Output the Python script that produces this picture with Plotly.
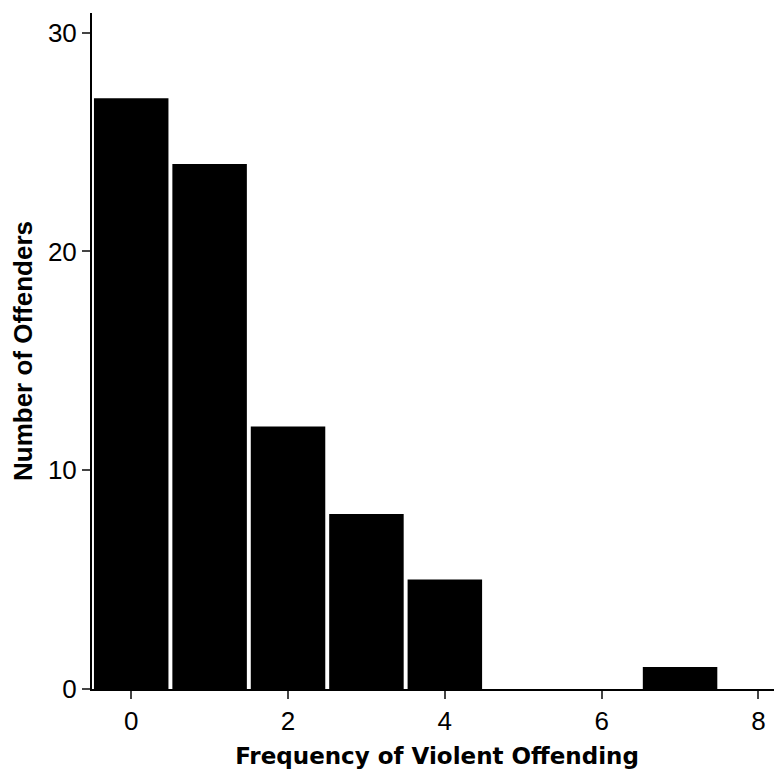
import plotly.graph_objects as go

frequency = [0, 1, 2, 3, 4, 5, 6, 7]
offenders = [27, 24, 12, 8, 5, 0, 0, 1]
x_ticks = [0, 2, 4, 6, 8]
y_ticks = [0, 10, 20, 30]

fig = go.Figure(go.Bar(
    x=frequency, y=offenders,
    marker=dict(color="black", line=dict(width=0)),
    width=0.95,
))

fig.update_layout(
    width=774, height=763,
    margin=dict(l=84, r=0, t=5, b=82),
    plot_bgcolor="white", paper_bgcolor="white",
    showlegend=False,
    font=dict(family="Liberation Sans, Arial, sans-serif", color="black"),
)
fig.update_xaxes(
    automargin=False,
    range=[-0.5, 8.3], tickvals=x_ticks, ticks="outside", ticklen=8, tickwidth=2,
    showline=True, linecolor="black", linewidth=2, showgrid=False, zeroline=False,
    tickfont=dict(size=26),
    title=dict(text="<b>Frequency of Violent Offending</b>",
               font=dict(size=23, family="DejaVu Sans, Verdana, sans-serif"), standoff=13),
)
fig.update_yaxes(
    automargin=False,
    range=[0, 30.9], tickvals=y_ticks, ticks="outside", ticklen=8, tickwidth=2,
    showline=True, linecolor="black", linewidth=2, showgrid=False, zeroline=False,
    tickfont=dict(size=26),
    title=dict(text="<b>Number of Offenders</b>", font=dict(size=26), standoff=10),
)

fig.write_html("out.html")
